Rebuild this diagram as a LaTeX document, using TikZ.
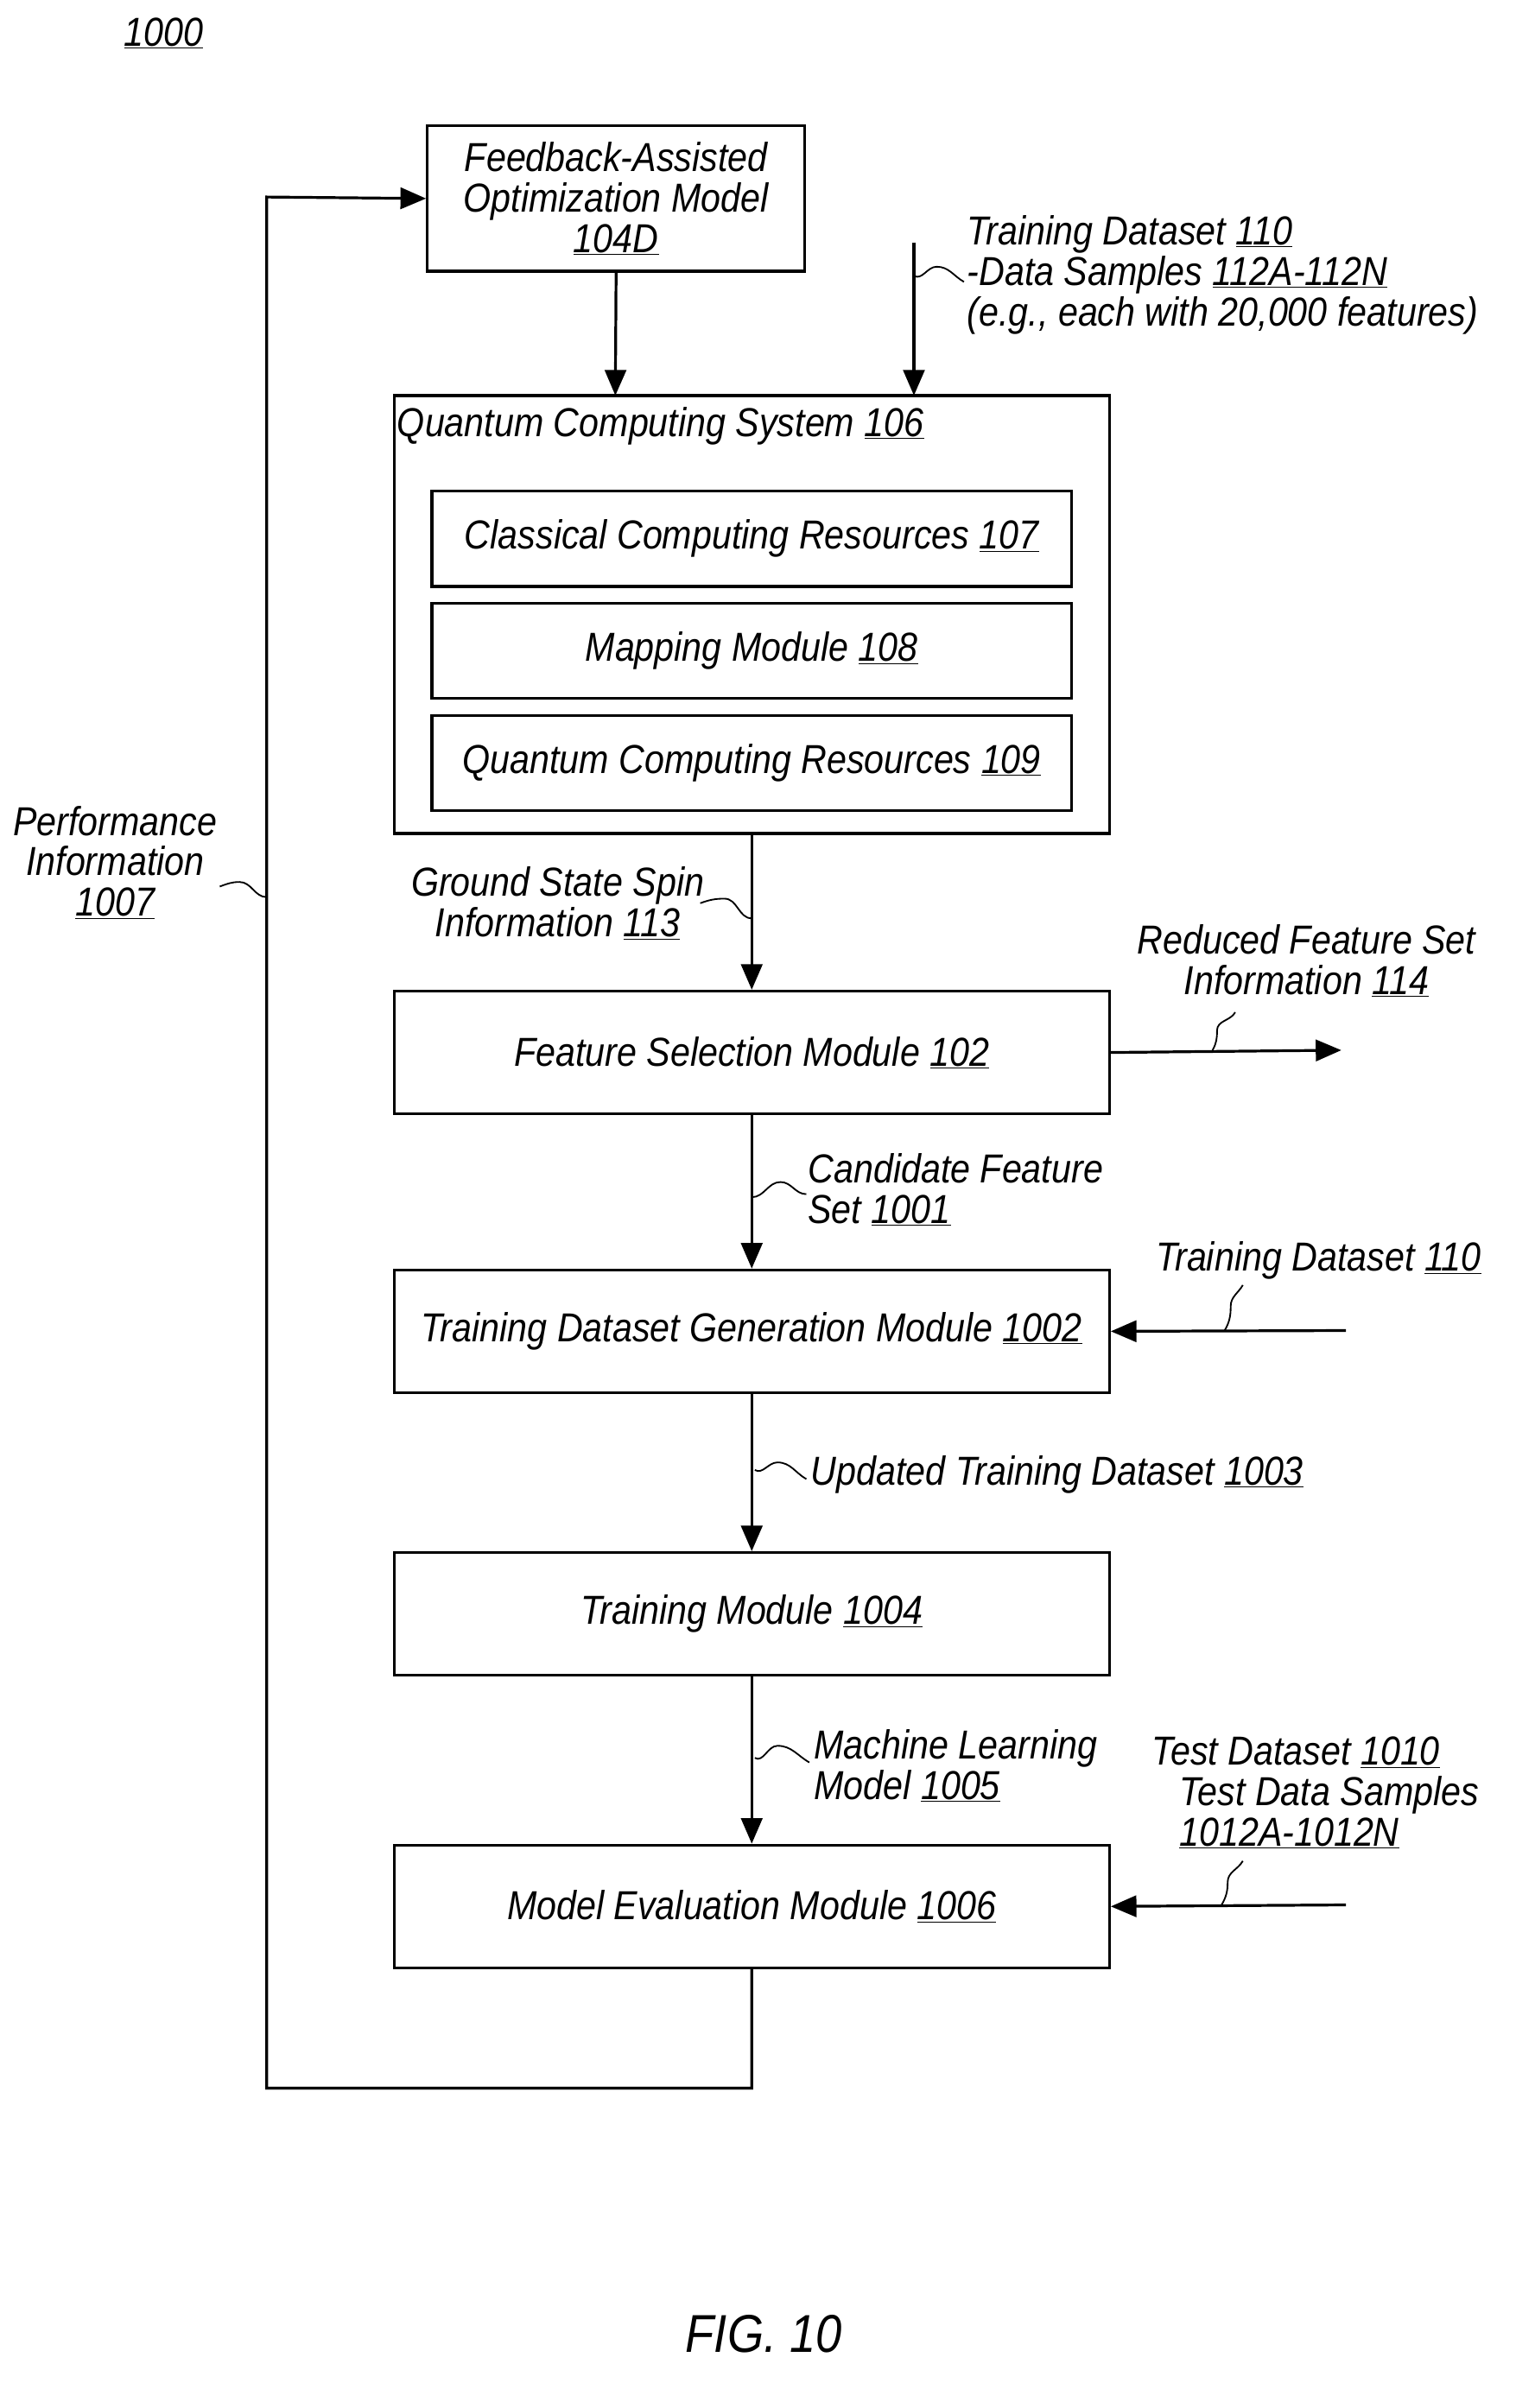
\documentclass[tikz,border=0pt]{standalone}
\usepackage{fontspec}
\setmainfont{Liberation Sans}[FakeStretch=0.88]
\usetikzlibrary{arrows.meta}
\newcommand{\ul}[1]{\underline{#1}}
\begin{document}
\begin{tikzpicture}[x=0.05cm,y=-0.05cm,
  lw/.style={line width=2.6pt},
  box/.style={draw,lw,rectangle,inner sep=0pt,align=center,font=\fontsize{38}{38}\selectfont\itshape},
  lab/.style={font=\fontsize{38}{38}\selectfont\itshape,inner sep=0pt},
  arr/.style={lw,-{Triangle[length=24pt,width=20pt]}},
  sq/.style={line width=1.5pt}]
\useasboundingbox (0,0) rectangle (1000,1589);
\node[lab] (n1000) at (108,22) {\ul{1000}};
% boxes
\node[box,minimum width=249*0.05cm,minimum height=96*0.05cm] (faom) at (406.5,131) {Feedback-Assisted\\Optimization Model\\\ul{104D}};
\draw[lw] (260,261) rectangle (732,550);
\coordinate (qtop) at (496,261);
\coordinate (qbot) at (496,550);
\coordinate (qtopl) at (406,261);
\coordinate (qtopr) at (603,261);
\node[lab,anchor=west] (qcs) at (262,281) {Quantum Computing System \ul{106}};
\node[box,minimum width=422*0.05cm,minimum height=63*0.05cm] (b107) at (496,355.5) {Classical Computing Resources \ul{107}};
\node[box,minimum width=422*0.05cm,minimum height=63*0.05cm] (b108) at (496,429.5) {Mapping Module \ul{108}};
\node[box,minimum width=422*0.05cm,minimum height=63*0.05cm] (b109) at (496,503.5) {Quantum Computing Resources \ul{109}};
\node[box,minimum width=472*0.05cm,minimum height=81*0.05cm] (fsm) at (496,694.5) {Feature Selection Module \ul{102}};
\node[box,minimum width=472*0.05cm,minimum height=81*0.05cm] (tdgm) at (496,878.5) {Training Dataset Generation Module \ul{1002}};
\node[box,minimum width=472*0.05cm,minimum height=81*0.05cm] (tm) at (496,1065) {Training Module \ul{1004}};
\node[box,minimum width=472*0.05cm,minimum height=81*0.05cm] (mem) at (496,1258) {Model Evaluation Module \ul{1006}};
% arrows
\draw[arr] (faom.south) -- (qtopl);
\coordinate (td1) at (603,160);
\draw[arr] (td1) -- (qtopr);
\draw[arr] (qbot) -- (fsm.north);
\coordinate (rfs) at (885,693);
\draw[arr] (fsm.east) -- (rfs);
\draw[arr] (fsm.south) -- (tdgm.north);
\coordinate (td2) at (888,878);
\draw[arr] (td2) -- (tdgm.east);
\draw[arr] (tdgm.south) -- (tm.north);
\draw[arr] (tm.south) -- (mem.north);
\coordinate (ts) at (888,1257);
\draw[arr] (ts) -- (mem.east);
\coordinate (lb) at (496,1378);
\coordinate (ll) at (176,1378);
\coordinate (lt) at (176,130);
\draw[arr] (mem.south) -- (lb) -- (ll) -- (lt) -- (faom.west);
% labels
\node[lab,align=left,anchor=north west] (t110) at (638,142) {Training Dataset \ul{110}\\-Data Samples \ul{112A-112N}\\(e.g., each with 20,000 features)};
\draw[sq] (603,182) to[out=-30,in=180] (618,176) to[out=0,in=150] (636,186);
\node[lab,align=center] (g113) at (368,596) {Ground State Spin\\Information \ul{113}};
\draw[sq] (462,596) to[out=20,in=180] (478,593) to[out=0,in=180] (496,606);
\node[lab,align=center] (r114) at (862,634) {Reduced Feature Set\\Information \ul{114}};
\draw[sq] (815,668) to[out=240,in=90] (803,680) to[out=270,in=60] (800,693);
\node[lab,align=left,anchor=west] (c1001) at (533,785) {Candidate Feature\\Set \ul{1001}};
\draw[sq] (496,790) to[out=0,in=180] (515,780) to[out=0,in=180] (532,788);
\node[lab,anchor=center] (t110b) at (870,832) {Training Dataset \ul{110}};
\draw[sq] (820,848) to[out=240,in=90] (812,862) to[out=270,in=60] (808,878);
\node[lab,anchor=west] (u1003) at (535,973) {Updated Training Dataset \ul{1003}};
\draw[sq] (498,970) to[out=-30,in=180] (513,965) to[out=0,in=150] (532,976);
\node[lab,align=left,anchor=west] (ml1005) at (537,1165) {Machine Learning\\Model \ul{1005}};
\draw[sq] (498,1160) to[out=-30,in=180] (513,1152) to[out=0,in=150] (534,1163);
\node[lab,align=left,anchor=north west] (t1010) at (760,1146) {Test Dataset \ul{1010}\\\hspace{0.9cm}Test Data Samples\\\hspace{0.9cm}\ul{1012A-1012N}};
\draw[sq] (820,1228) to[out=240,in=90] (810,1242) to[out=270,in=60] (806,1257);
\node[lab,align=center] (p1007) at (76,569) {Performance\\Information\\\ul{1007}};
\draw[sq] (145,585) to[out=20,in=180] (158,582) to[out=0,in=180] (176,592);
\node[font=\fontsize{50}{50}\selectfont\itshape] (fig) at (504,1540) {FIG. 10};
\end{tikzpicture}
\end{document}
